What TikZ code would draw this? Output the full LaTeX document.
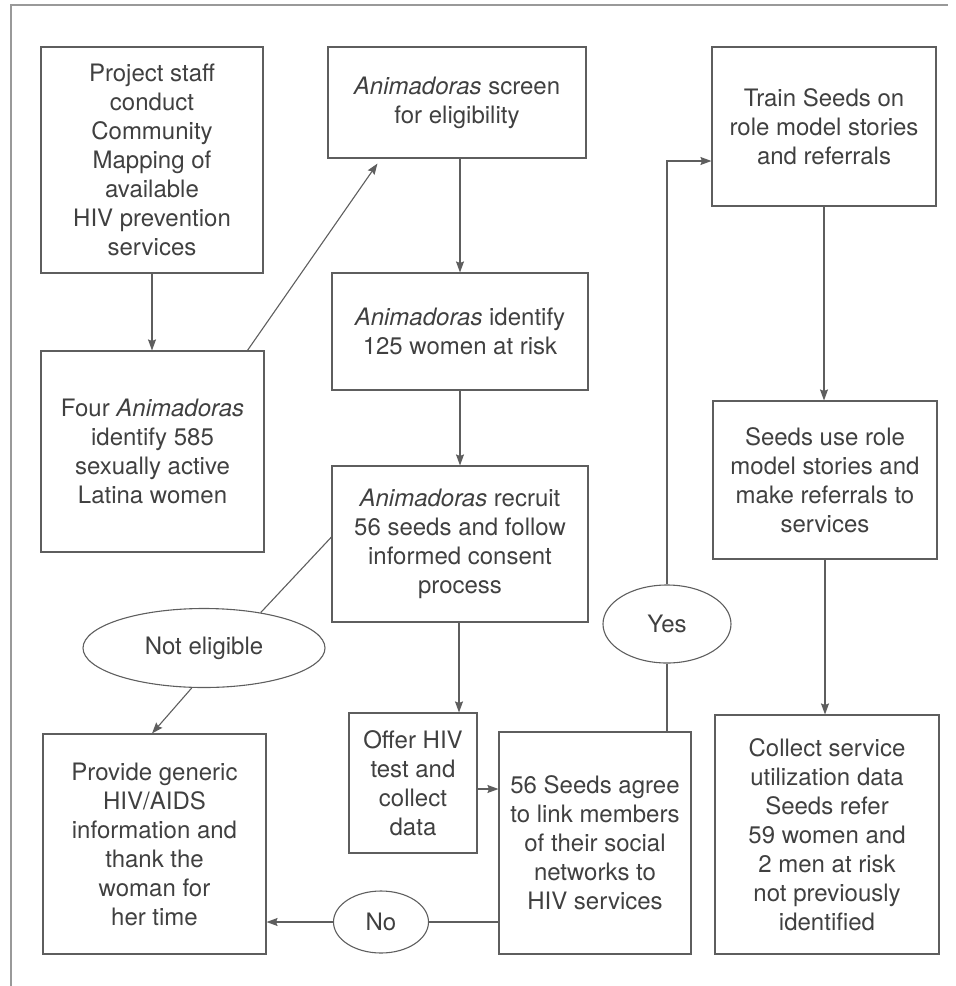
\documentclass[tikz,border=0pt]{standalone}
\usepackage{fontspec}
\setmainfont{TeX Gyre Heros}
\usetikzlibrary{arrows.meta,shapes.geometric}
\definecolor{ink}{HTML}{404040}
\definecolor{lin}{HTML}{5E5E5E}
\begin{document}
\begin{tikzpicture}[x=1pt,y=-1pt,
  every node/.style={text=ink,font=\fontsize{24}{29}\selectfont},
  box/.style={draw=lin,line width=1.1pt,rectangle,align=center,inner sep=0pt},
  oval/.style={draw=lin,line width=1.1pt,ellipse,align=center,inner sep=0pt},
  conn/.style={draw=lin,line width=1.1pt},
  arr/.style={conn,-{Stealth[length=11pt,width=8pt,inset=1.5pt]}}]
\useasboundingbox (0,0) rectangle (956,986);
% frame
\draw[draw=gray!80,line width=1.2pt] (11,986) -- (11,5) -- (948,5);
% boxes
\node[box,minimum width=222pt,minimum height=226pt] (A) at (152,160)
  {Project staff\\conduct\\Community\\Mapping of\\available\\HIV prevention\\services};
\node[box,minimum width=223pt,minimum height=201pt] (B) at (152.5,451.5)
  {Four \textit{Animadoras}\\identify 585\\sexually active\\Latina women};
\node[box,minimum width=258pt,minimum height=111pt] (C) at (457,102.5)
  {\textit{Animadoras} screen\\for eligibility};
\node[box,minimum width=256pt,minimum height=117pt] (D) at (460,331.5)
  {\textit{Animadoras} identify\\125 women at risk};
\node[box,minimum width=256pt,minimum height=156pt] (E) at (460,544)
  {\textit{Animadoras} recruit\\56 seeds and follow\\informed consent\\process};
\node[box,minimum width=128pt,minimum height=140pt] (F) at (413,783)
  {Offer HIV\\test and\\collect\\data};
\node[box,minimum width=192pt,minimum height=222pt] (G) at (595,843)
  {56 Seeds agree\\to link members\\of their social\\networks to\\HIV services};
\node[box,minimum width=223pt,minimum height=220pt] (H) at (154.5,844)
  {Provide generic\\HIV/AIDS\\information and\\thank the\\woman for\\her time};
\node[box,minimum width=224pt,minimum height=159pt] (I) at (824,126.5)
  {Train Seeds on\\role model stories\\and referrals};
\node[box,minimum width=224pt,minimum height=158pt] (J) at (825,480)
  {Seeds use role\\model stories and\\make referrals to\\services};
\node[box,minimum width=224pt,minimum height=239pt] (K) at (827,834.5)
  {Collect service\\utilization data\\Seeds refer\\59 women and\\2 men at risk\\not previously\\identified};
% ovals
\node[oval,minimum width=242pt,minimum height=79pt] (NE) at (204,648) {Not eligible};
\node[oval,minimum width=128pt,minimum height=78pt] (Y) at (667,624) {Yes};
\node[oval,minimum width=95pt,minimum height=62pt] (N) at (381,922) {No};
% connectors
\draw[arr] (A.south) -- (A.south |- B.north);
\draw[arr] ([xshift=207pt]B.north west) -- ([xshift=50pt,yshift=-5pt]C.south west);
\draw[arr] (C.south -| D.north) -- (D.north);
\draw[arr] (D.south) -- (E.north);
\draw[arr] ([xshift=-1pt]E.south) -- ([xshift=-1pt]E.south |- F.north);
\draw[arr] ([yshift=-6pt]F.east) -- ([yshift=-6pt]F.east -| G.west);
\draw[conn] (G.west |- N.east) -- (N.east);
\draw[arr] (N.west) -- (N.west -| H.east);
\draw[conn] ([yshift=7pt]E.west) -- (NE.32);
\draw[arr] (NE.-107) -- ([xshift=-2.5pt]H.north);
\draw[conn] (Y.south) -- (Y.south |- G.north);
\draw[arr] (Y.north) |- ([yshift=-34.5pt]I.west);
\draw[arr] (I.south) -- (I.south |- J.north);
\draw[arr] (J.south) -- (J.south |- K.north);
\end{tikzpicture}
\end{document}
